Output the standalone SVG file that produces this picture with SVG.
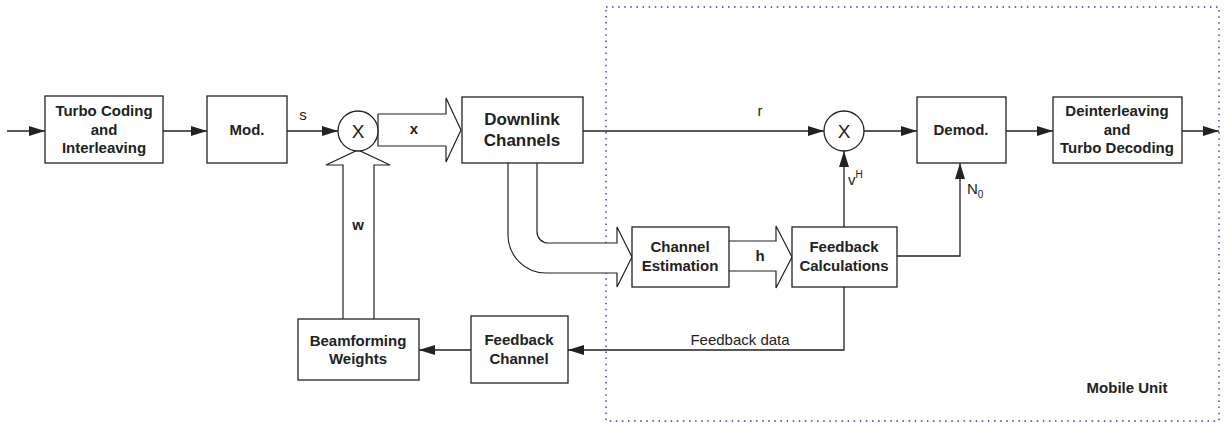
<svg xmlns="http://www.w3.org/2000/svg" width="1225" height="423" viewBox="0 0 1225 423">
<style>
  .box{fill:#fff;stroke:#222;stroke-width:1.3}
  .ln{fill:none;stroke:#222;stroke-width:1.3}
  .big{fill:#fff;stroke:#222;stroke-width:1.2;stroke-linejoin:miter}
  .b{font-family:"Liberation Sans",Arial,sans-serif;font-weight:bold;font-size:15px;fill:#222;text-anchor:middle}
  .b17{font-family:"Liberation Sans",Arial,sans-serif;font-weight:bold;font-size:17px;fill:#222;text-anchor:middle}
  .r{font-family:"Liberation Sans",Arial,sans-serif;font-size:15px;fill:#222;text-anchor:middle}
  .x{font-family:"Liberation Sans",Arial,sans-serif;font-size:19px;fill:#222;text-anchor:middle}
  .dot{fill:none;stroke:#3535c8;stroke-width:1.4;stroke-dasharray:1.5 4.6}
</style>
<defs>
  <marker id="ah" markerWidth="16" markerHeight="10" refX="16" refY="5" orient="auto" markerUnits="userSpaceOnUse">
    <path d="M0,0 L16,5 L0,10 Z" fill="#222"/>
  </marker>
</defs>

<rect id="mobile-unit-region" class="dot" x="606" y="7" width="613" height="414"/>
<text class="b" x="1127" y="393">Mobile Unit</text>

<g id="connectors">
  <line class="ln" x1="7" y1="131" x2="45" y2="131" marker-end="url(#ah)"/>
  <line class="ln" x1="163" y1="131" x2="207" y2="131" marker-end="url(#ah)"/>
  <line class="ln" x1="287" y1="131" x2="338" y2="131" marker-end="url(#ah)"/>
  <text class="r" x="303" y="120">s</text>
  <!-- x big arrow -->
  <path class="big" d="M378,114 H446 V98 L461,130 L446,162 V146 H378 Z"/>
  <text class="b" x="414" y="134">x</text>
  <!-- w big arrow -->
  <path class="big" d="M343,319 V165 H326 L358,150 L390,165 H374 V319"/>
  <text class="b" x="358" y="230">w</text>
  <!-- r line -->
  <line class="ln" x1="583" y1="131" x2="824" y2="131" marker-end="url(#ah)"/>
  <text class="r" x="760" y="116">r</text>
  <line class="ln" x1="864" y1="131" x2="917" y2="131" marker-end="url(#ah)"/>
  <line class="ln" x1="1006" y1="131" x2="1053" y2="131" marker-end="url(#ah)"/>
  <line class="ln" x1="1182" y1="131" x2="1219" y2="131" marker-end="url(#ah)"/>
  <!-- curved big arrow -->
  <path class="big" d="M508,163 V235 A38,38 0 0 0 546,273 H617 V287 L632,257 L617,227 V243 H548 A11,11 0 0 1 537,232 V163"/>
  <!-- h big arrow -->
  <path class="big" d="M729,241 H776 V226 L792,257 L776,288 V271 H729"/>
  <text class="b" x="760" y="261">h</text>
  <!-- vH -->
  <line class="ln" x1="844" y1="227" x2="844" y2="151" marker-end="url(#ah)"/>
  <text font-family="Liberation Sans, Arial, sans-serif" font-size="15" fill="#222" x="848" y="185">v<tspan font-size="10" dy="-7">H</tspan></text>
  <!-- N0 -->
  <polyline class="ln" points="897,256 960,256 960,163" marker-end="url(#ah)"/>
  <text font-family="Liberation Sans, Arial, sans-serif" font-size="15" fill="#222" x="967" y="194">N<tspan font-size="10" dy="4">0</tspan></text>
  <!-- feedback data -->
  <polyline class="ln" points="844,287 844,350 568,350" marker-end="url(#ah)"/>
  <text class="r" x="740" y="345">Feedback data</text>
  <line class="ln" x1="471" y1="350" x2="419" y2="350" marker-end="url(#ah)"/>
</g>

<g id="turbo-coding">
  <rect class="box" x="45" y="96" width="118" height="67"/>
  <text class="b" x="104" y="116">Turbo Coding</text>
  <text class="b" x="104" y="135">and</text>
  <text class="b" x="104" y="153">Interleaving</text>
</g>
<g id="mod">
  <rect class="box" x="207" y="96" width="80" height="67"/>
  <text class="b" x="247" y="135">Mod.</text>
</g>
<g id="mult1">
  <circle class="box" cx="358" cy="131" r="20"/>
  <text class="x" x="358" y="138">X</text>
</g>
<g id="downlink-channels">
  <rect class="box" x="462" y="97" width="121" height="66"/>
  <text class="b17" x="522" y="125">Downlink</text>
  <text class="b17" x="522" y="146">Channels</text>
</g>
<g id="mult2">
  <circle class="box" cx="844" cy="131" r="20"/>
  <text class="x" x="844" y="138">X</text>
</g>
<g id="demod">
  <rect class="box" x="917" y="97" width="89" height="66"/>
  <text class="b" x="961" y="135">Demod.</text>
</g>
<g id="deinterleaving">
  <rect class="box" x="1053" y="97" width="129" height="66"/>
  <text class="b" x="1117" y="116">Deinterleaving</text>
  <text class="b" x="1117" y="135">and</text>
  <text class="b" x="1117" y="153">Turbo Decoding</text>
</g>
<g id="channel-estimation">
  <rect class="box" x="632" y="227" width="97" height="60"/>
  <text class="b" x="680" y="252">Channel</text>
  <text class="b" x="680" y="271">Estimation</text>
</g>
<g id="feedback-calculations">
  <rect class="box" x="792" y="227" width="105" height="60"/>
  <text class="b" x="844" y="252">Feedback</text>
  <text class="b" x="844" y="271">Calculations</text>
</g>
<g id="feedback-channel">
  <rect class="box" x="471" y="316" width="97" height="67"/>
  <text class="b" x="519" y="345">Feedback</text>
  <text class="b" x="519" y="364">Channel</text>
</g>
<g id="beamforming-weights">
  <rect class="box" x="298" y="319" width="121" height="61"/>
  <text class="b" x="358" y="346">Beamforming</text>
  <text class="b" x="358" y="364">Weights</text>
</g>
</svg>
